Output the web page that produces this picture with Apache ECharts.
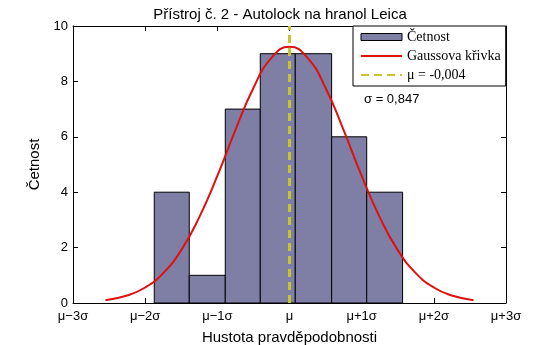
<!DOCTYPE html>
<html>
<head>
<meta charset="utf-8">
<script src="https://cdn.jsdelivr.net/npm/echarts@6/dist/echarts.min.js"></script>
<style>html,body{margin:0;padding:0;background:#fff;}#c{width:560px;height:345px;}</style>
</head>
<body>
<div id="c"></div>
<script>
// x axis is expressed in units of sigma around mu
var tickLabels = ['μ−3σ', 'μ−2σ', 'μ−1σ', 'μ', 'μ+1σ', 'μ+2σ', 'μ+3σ'];
var binEdges = [-1.874, -1.389, -0.890, -0.405, 0.080, 0.584, 1.070, 1.567];
var binCounts = [4, 1, 7, 9, 9, 6, 4];
var curveX = [-2.55, -2.25, -2.0, -1.75, -1.5, -1.25, -1.0, -0.75, -0.5, -0.25, 0, 0.25, 0.5, 0.75, 1.0, 1.25, 1.5, 1.75, 2.0, 2.25, 2.55];
var curveY = [0.10, 0.27, 0.56, 1.08, 1.91, 3.10, 4.59, 6.24, 7.76, 8.85, 9.25, 8.85, 7.76, 6.24, 4.59, 3.10, 1.91, 1.08, 0.56, 0.27, 0.10];
var muPos = 0;
var muText = 'μ = -0,004';
var sigmaText = 'σ = 0,847';

var barData = binCounts.map(function (c, i) { return [binEdges[i], binEdges[i + 1], c]; });
var curveData = curveX.map(function (x, i) { return [x, curveY[i]]; });

function axisLine() { return {show: true, onZero: false, lineStyle: {color: '#000', width: 1}}; }
function tick() { return {show: true, inside: true, length: 5, lineStyle: {color: '#000', width: 1}}; }
var clear = {color: 'rgba(0,0,0,0)', borderColor: 'rgba(0,0,0,0)', borderWidth: 0};

var chart = echarts.init(document.getElementById('c'), null, {renderer: 'canvas'});
chart.setOption({
  animation: false,
  backgroundColor: '#fff',
  textStyle: {fontFamily: 'Liberation Sans, Arial, sans-serif'},
  title: {
    text: 'Přístroj č. 2 - Autolock na hranol Leica',
    left: 'center', top: 2,
    textStyle: {fontSize: 15, fontWeight: 'normal', color: '#000', fontFamily: 'Liberation Sans'}
  },
  grid: {left: 73, right: 54, top: 26, bottom: 42, containLabel: false, outerBoundsMode: 'none'},
  legend: {
    orient: 'vertical', left: 353, top: 26,
    padding: [4, 5, 4, 7], itemGap: 5,
    itemWidth: 41, itemHeight: 7,
    backgroundColor: '#fff', borderColor: '#000', borderWidth: 1,
    textStyle: {fontFamily: 'Liberation Serif', fontSize: 14, color: '#000', lineHeight: 14},
    data: [
      {name: 'Četnost', icon: 'rect', itemStyle: {color: '#7f7fa6', borderColor: '#000', borderWidth: 1}},
      {name: 'Gaussova křivka', itemStyle: clear},
      {name: muText, itemStyle: clear}
    ]
  },
  graphic: [{
    type: 'text', left: 364, top: 93,
    style: {text: sigmaText, fontSize: 13, fontFamily: 'Liberation Sans', fill: '#000'}
  }],
  xAxis: [{
    type: 'value', min: -3, max: 3, interval: 1,
    name: 'Hustota pravděpodobnosti', nameLocation: 'middle', nameGap: 27,
    nameTextStyle: {fontSize: 15, color: '#000', fontFamily: 'Liberation Sans'},
    axisLine: axisLine(), axisTick: tick(), splitLine: {show: false},
    axisLabel: {color: '#000', fontSize: 13, margin: 7, fontFamily: 'Liberation Sans',
      formatter: function (v) { return tickLabels[Math.round(v) + 3]; }}
  }, {
    type: 'value', min: -3, max: 3, interval: 1, position: 'top',
    axisLine: axisLine(), axisTick: tick(), axisLabel: {show: false}, splitLine: {show: false}
  }],
  yAxis: [{
    type: 'value', min: 0, max: 10, interval: 2,
    name: 'Četnost', nameLocation: 'middle', nameGap: 25,
    nameTextStyle: {fontSize: 15, color: '#000', fontFamily: 'Liberation Sans'},
    axisLine: axisLine(), axisTick: tick(), splitLine: {show: false},
    axisLabel: {color: '#000', fontSize: 13, margin: 5, fontFamily: 'Liberation Sans'}
  }, {
    type: 'value', min: 0, max: 10, interval: 2, position: 'right',
    axisLine: axisLine(), axisTick: tick(), axisLabel: {show: false}, splitLine: {show: false}
  }],
  series: [{
    name: 'Četnost', type: 'custom',
    itemStyle: {color: '#7f7fa6', borderColor: '#000', borderWidth: 1},
    renderItem: function (params, api) {
      var p0 = api.coord([api.value(0), api.value(2)]);
      var p1 = api.coord([api.value(1), 0]);
      return {
        type: 'rect',
        shape: {x: p0[0], y: p0[1], width: p1[0] - p0[0], height: p1[1] - p0[1]},
        style: {fill: '#7f7fa6', stroke: '#000', lineWidth: 1}
      };
    },
    encode: {x: [0, 1], y: 2},
    data: barData, z: 1
  }, {
    name: 'Gaussova křivka', type: 'line', smooth: true, symbol: 'none',
    lineStyle: {color: '#e01010', width: 2}, itemStyle: {color: '#e01010'},
    data: curveData, z: 2
  }, {
    name: muText, type: 'line', symbol: 'none',
    lineStyle: {color: '#c8c430', width: 3, type: [8, 5]}, itemStyle: {color: '#c8c430'},
    data: [[muPos, 0], [muPos, 10]], z: 3
  }, {
    type: 'line', xAxisIndex: 1, yAxisIndex: 1, symbol: 'none', silent: true,
    lineStyle: {width: 0, opacity: 0}, data: []
  }]
});
</script>
</body>
</html>
